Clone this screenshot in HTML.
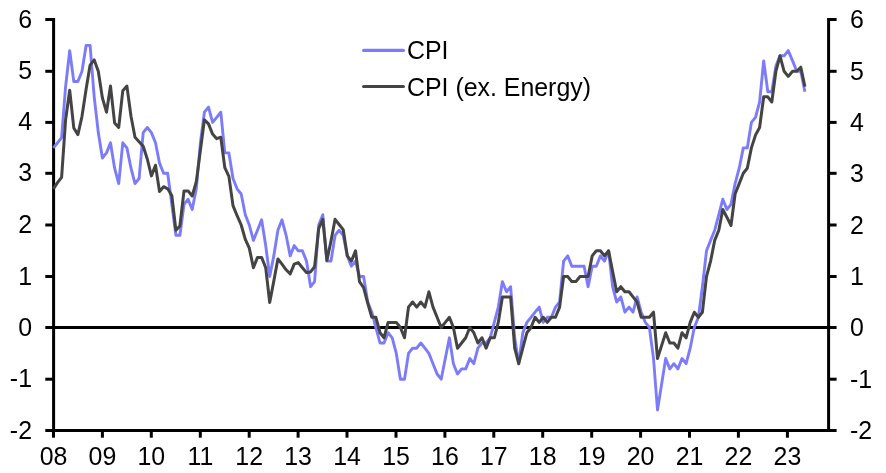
<!DOCTYPE html>
<html><head><meta charset="utf-8"><title>CPI</title>
<style>html,body{margin:0;padding:0;background:#fff}</style></head>
<body>
<svg width="886" height="473" viewBox="0 0 886 473" style="display:block">
<rect width="886" height="473" fill="#fff"/>
<g stroke="#000" stroke-width="3" fill="none">
<line x1="53.6" y1="18.0" x2="53.6" y2="432.0"/>
<line x1="828.6" y1="18.0" x2="828.6" y2="432.0"/>
<line x1="53.6" y1="430.5" x2="828.6" y2="430.5"/>
<line x1="45.3" y1="430.5" x2="53.6" y2="430.5"/>
<line x1="828.6" y1="430.5" x2="836.6" y2="430.5"/>
<line x1="45.3" y1="379.2" x2="53.6" y2="379.2"/>
<line x1="828.6" y1="379.2" x2="836.6" y2="379.2"/>
<line x1="45.3" y1="327.5" x2="53.6" y2="327.5"/>
<line x1="828.6" y1="327.5" x2="836.6" y2="327.5"/>
<line x1="45.3" y1="276.5" x2="53.6" y2="276.5"/>
<line x1="828.6" y1="276.5" x2="836.6" y2="276.5"/>
<line x1="45.3" y1="225.0" x2="53.6" y2="225.0"/>
<line x1="828.6" y1="225.0" x2="836.6" y2="225.0"/>
<line x1="45.3" y1="173.3" x2="53.6" y2="173.3"/>
<line x1="828.6" y1="173.3" x2="836.6" y2="173.3"/>
<line x1="45.3" y1="122.4" x2="53.6" y2="122.4"/>
<line x1="828.6" y1="122.4" x2="836.6" y2="122.4"/>
<line x1="45.3" y1="71.3" x2="53.6" y2="71.3"/>
<line x1="828.6" y1="71.3" x2="836.6" y2="71.3"/>
<line x1="45.3" y1="19.5" x2="53.6" y2="19.5"/>
<line x1="828.6" y1="19.5" x2="836.6" y2="19.5"/>
<line x1="53.5" y1="430.5" x2="53.5" y2="437.7"/>
<line x1="102.4" y1="430.5" x2="102.4" y2="437.7"/>
<line x1="151.3" y1="430.5" x2="151.3" y2="437.7"/>
<line x1="200.3" y1="430.5" x2="200.3" y2="437.7"/>
<line x1="249.2" y1="430.5" x2="249.2" y2="437.7"/>
<line x1="298.1" y1="430.5" x2="298.1" y2="437.7"/>
<line x1="347.0" y1="430.5" x2="347.0" y2="437.7"/>
<line x1="396.0" y1="430.5" x2="396.0" y2="437.7"/>
<line x1="444.9" y1="430.5" x2="444.9" y2="437.7"/>
<line x1="493.8" y1="430.5" x2="493.8" y2="437.7"/>
<line x1="542.7" y1="430.5" x2="542.7" y2="437.7"/>
<line x1="591.7" y1="430.5" x2="591.7" y2="437.7"/>
<line x1="640.6" y1="430.5" x2="640.6" y2="437.7"/>
<line x1="689.5" y1="430.5" x2="689.5" y2="437.7"/>
<line x1="738.4" y1="430.5" x2="738.4" y2="437.7"/>
<line x1="787.4" y1="430.5" x2="787.4" y2="437.7"/>
</g>
<line x1="53.6" y1="327.5" x2="828.6" y2="327.5" stroke="#000" stroke-width="2.8"/>
<polyline fill="none" stroke="#7c7cfb" stroke-width="2.9" stroke-linejoin="round" stroke-linecap="butt" points="53.4,147.9 57.5,142.8 61.6,137.7 65.6,86.6 69.7,50.6 73.8,81.5 77.9,81.5 82.0,71.3 86.1,45.4 90.1,45.4 94.2,96.8 98.3,132.6 102.4,158.0 106.5,152.9 110.5,142.8 114.6,168.2 118.7,183.6 122.8,142.8 126.9,147.9 131.0,168.2 135.0,183.6 139.1,178.5 143.2,132.6 147.3,127.5 151.4,132.6 155.5,142.8 159.5,163.1 163.6,173.3 167.7,173.3 171.8,204.3 175.9,235.3 179.9,235.3 184.0,204.3 188.1,199.2 192.2,209.5 196.3,188.8 200.4,142.8 204.4,112.2 208.5,107.1 212.6,122.4 216.7,117.3 220.8,112.2 224.8,152.9 228.9,152.9 233.0,178.5 237.1,188.8 241.2,194.0 245.3,214.7 249.3,225.0 253.4,240.4 257.5,230.2 261.6,219.8 265.7,245.6 269.7,276.5 273.8,255.9 277.9,230.2 282.0,219.8 286.1,235.3 290.2,255.9 294.2,245.6 298.3,250.8 302.4,250.8 306.5,261.1 310.6,286.7 314.6,281.6 318.7,225.0 322.8,214.7 326.9,261.1 331.0,261.1 335.1,235.3 339.1,230.2 343.2,235.3 347.3,255.9 351.4,266.2 355.5,261.1 359.5,276.5 363.6,276.5 367.7,302.0 371.8,312.2 375.9,327.5 380.0,343.0 384.0,343.0 388.1,332.7 392.2,337.8 396.3,353.4 400.4,379.2 404.5,379.2 408.5,353.4 412.6,348.2 416.7,348.2 420.8,343.0 424.9,348.2 428.9,353.4 433.0,363.7 437.1,374.0 441.2,379.2 445.3,358.5 449.4,337.8 453.4,363.7 457.5,374.0 461.6,368.9 465.7,368.9 469.8,358.5 473.8,363.7 477.9,348.2 482.0,343.0 486.1,343.0 490.2,337.8 494.3,322.4 498.3,307.1 502.4,281.6 506.5,291.8 510.6,286.7 514.7,337.8 518.7,363.7 522.8,332.7 526.9,322.4 531.0,317.3 535.1,312.2 539.2,307.1 543.2,322.4 547.3,317.3 551.4,317.3 555.5,307.1 559.6,302.0 563.6,261.1 567.7,255.9 571.8,266.2 575.9,266.2 580.0,266.2 584.1,266.2 588.1,286.7 592.2,266.2 596.3,266.2 600.4,255.9 604.5,261.1 608.6,250.8 612.6,286.7 616.7,302.0 620.8,296.9 624.9,312.2 629.0,307.1 633.0,312.2 637.1,296.9 641.2,312.2 645.3,322.4 649.4,327.5 653.5,358.5 657.5,410.0 661.6,384.3 665.7,358.5 669.8,368.9 673.9,363.7 677.9,368.9 682.0,358.5 686.1,363.7 690.2,348.2 694.3,327.5 698.4,317.3 702.4,286.7 706.5,250.8 710.6,240.4 714.7,230.2 718.8,214.7 722.8,199.2 726.9,209.5 731.0,204.3 735.1,183.6 739.2,168.2 743.3,147.9 747.3,147.9 751.4,122.4 755.5,117.3 759.6,102.0 763.7,60.9 767.8,91.7 771.8,91.7 775.9,66.1 780.0,55.8 784.1,55.8 788.2,50.6 792.6,60.9 796.7,71.3 800.8,71.3 804.9,91.7"/>
<polyline fill="none" stroke="#444444" stroke-width="3.0" stroke-linejoin="round" stroke-linecap="butt" points="53.4,188.8 57.5,182.6 61.6,177.4 65.6,119.8 69.7,90.2 73.8,128.0 77.9,134.6 82.0,116.3 86.1,89.2 90.1,65.1 94.2,59.9 98.3,71.3 102.4,97.9 106.5,112.2 110.5,86.1 114.6,122.9 118.7,127.5 122.8,90.7 126.9,86.1 131.0,116.3 135.0,137.2 139.1,141.7 143.2,146.3 147.3,159.0 151.4,175.9 155.5,165.2 159.5,191.4 163.6,186.7 167.7,188.8 171.8,195.5 175.9,230.2 179.9,226.0 184.0,190.9 188.1,190.9 192.2,196.0 196.3,181.6 200.4,150.4 204.4,119.8 208.5,123.9 212.6,134.1 216.7,138.7 220.8,137.2 224.8,167.7 228.9,176.4 233.0,205.6 237.1,215.7 241.2,225.0 245.3,239.4 249.3,248.2 253.4,267.7 257.5,257.4 261.6,257.4 265.7,267.7 269.7,302.5 273.8,281.1 277.9,259.0 282.0,264.1 286.1,269.8 290.2,273.9 294.2,264.1 298.3,262.6 302.4,267.7 306.5,272.6 310.6,271.9 314.6,266.7 318.7,228.6 322.8,219.3 326.9,260.5 331.0,241.0 335.1,219.3 339.1,224.5 343.2,229.6 347.3,255.9 351.4,261.1 355.5,250.8 359.5,281.6 363.6,287.7 367.7,303.0 371.8,317.3 375.9,317.3 380.0,332.7 384.0,337.8 388.1,322.4 392.2,322.4 396.3,322.4 400.4,327.5 404.5,337.8 408.5,307.1 412.6,302.0 416.7,307.1 420.8,302.0 424.9,307.1 428.9,291.8 433.0,307.1 437.1,317.3 441.2,327.5 445.3,322.4 449.4,317.3 453.4,327.5 457.5,348.2 461.6,343.0 465.7,337.8 469.8,327.5 473.8,332.7 477.9,343.0 482.0,337.8 486.1,348.2 490.2,337.8 494.3,337.8 498.3,322.4 502.4,296.9 506.5,296.9 510.6,296.9 514.7,348.2 518.7,363.7 522.8,348.2 526.9,332.7 531.0,327.5 535.1,317.3 539.2,322.4 543.2,317.3 547.3,322.4 551.4,317.3 555.5,317.3 559.6,307.1 563.6,276.5 567.7,276.5 571.8,281.6 575.9,281.6 580.0,276.5 584.1,276.5 588.1,276.5 592.2,255.9 596.3,250.8 600.4,250.8 604.5,255.9 608.6,250.8 612.6,271.4 616.7,291.8 620.8,286.7 624.9,291.8 629.0,291.8 633.0,296.9 637.1,302.0 641.2,317.3 645.3,317.3 649.4,317.3 653.5,312.2 657.5,358.5 661.6,345.6 665.7,332.7 669.8,343.0 673.9,343.0 677.9,348.2 682.0,332.7 686.1,337.8 690.2,322.4 694.3,312.2 698.4,317.3 702.4,312.2 706.5,276.5 710.6,261.1 714.7,240.4 718.8,230.2 722.8,209.5 726.9,217.2 731.0,225.5 735.1,194.0 739.2,183.6 743.3,173.3 747.3,168.2 751.4,147.9 755.5,135.1 759.6,127.5 763.7,96.8 767.8,96.8 771.8,102.0 775.9,71.3 780.0,55.8 784.1,71.3 788.2,76.4 792.6,71.3 796.7,71.3 800.8,67.2 804.9,86.6"/>
<g font-family="Liberation Sans, Arial, sans-serif" font-size="24.9px" fill="#000">
<text transform="translate(32.0,438.5) scale(1,1.040)" text-anchor="end">-2</text>
<text transform="translate(850.0,439.3) scale(1,1.040)" text-anchor="start">-2</text>
<text transform="translate(32.0,387.2) scale(1,1.040)" text-anchor="end">-1</text>
<text transform="translate(850.0,388.0) scale(1,1.040)" text-anchor="start">-1</text>
<text transform="translate(32.0,335.5) scale(1,1.040)" text-anchor="end">0</text>
<text transform="translate(850.0,336.3) scale(1,1.040)" text-anchor="start">0</text>
<text transform="translate(32.0,284.5) scale(1,1.040)" text-anchor="end">1</text>
<text transform="translate(850.0,285.3) scale(1,1.040)" text-anchor="start">1</text>
<text transform="translate(32.0,233.0) scale(1,1.040)" text-anchor="end">2</text>
<text transform="translate(850.0,233.8) scale(1,1.040)" text-anchor="start">2</text>
<text transform="translate(32.0,181.3) scale(1,1.040)" text-anchor="end">3</text>
<text transform="translate(850.0,182.1) scale(1,1.040)" text-anchor="start">3</text>
<text transform="translate(32.0,130.4) scale(1,1.040)" text-anchor="end">4</text>
<text transform="translate(850.0,131.2) scale(1,1.040)" text-anchor="start">4</text>
<text transform="translate(32.0,79.3) scale(1,1.040)" text-anchor="end">5</text>
<text transform="translate(850.0,80.1) scale(1,1.040)" text-anchor="start">5</text>
<text transform="translate(32.0,27.5) scale(1,1.040)" text-anchor="end">6</text>
<text transform="translate(850.0,28.3) scale(1,1.040)" text-anchor="start">6</text>
<text transform="translate(53.5,465.0) scale(1,1.040)" text-anchor="middle">08</text>
<text transform="translate(102.4,465.0) scale(1,1.040)" text-anchor="middle">09</text>
<text transform="translate(151.3,465.0) scale(1,1.040)" text-anchor="middle">10</text>
<text transform="translate(200.3,465.0) scale(1,1.040)" text-anchor="middle">11</text>
<text transform="translate(249.2,465.0) scale(1,1.040)" text-anchor="middle">12</text>
<text transform="translate(298.1,465.0) scale(1,1.040)" text-anchor="middle">13</text>
<text transform="translate(347.0,465.0) scale(1,1.040)" text-anchor="middle">14</text>
<text transform="translate(396.0,465.0) scale(1,1.040)" text-anchor="middle">15</text>
<text transform="translate(444.9,465.0) scale(1,1.040)" text-anchor="middle">16</text>
<text transform="translate(493.8,465.0) scale(1,1.040)" text-anchor="middle">17</text>
<text transform="translate(542.7,465.0) scale(1,1.040)" text-anchor="middle">18</text>
<text transform="translate(591.7,465.0) scale(1,1.040)" text-anchor="middle">19</text>
<text transform="translate(640.6,465.0) scale(1,1.040)" text-anchor="middle">20</text>
<text transform="translate(689.5,465.0) scale(1,1.040)" text-anchor="middle">21</text>
<text transform="translate(738.4,465.0) scale(1,1.040)" text-anchor="middle">22</text>
<text transform="translate(787.4,465.0) scale(1,1.040)" text-anchor="middle">23</text>
<text transform="translate(407.0,59.0) scale(1,1.040)" text-anchor="start">CPI</text>
<text transform="translate(407.0,95.5) scale(1,1.040)" text-anchor="start">CPI (ex. Energy)</text>
</g>
<line x1="363.6" y1="50.4" x2="403.4" y2="50.4" stroke="#7c7cfb" stroke-width="3.1" stroke-linecap="round"/>
<line x1="363.6" y1="86.5" x2="403.4" y2="86.5" stroke="#444444" stroke-width="3.1" stroke-linecap="round"/>
</svg>
</body></html>
